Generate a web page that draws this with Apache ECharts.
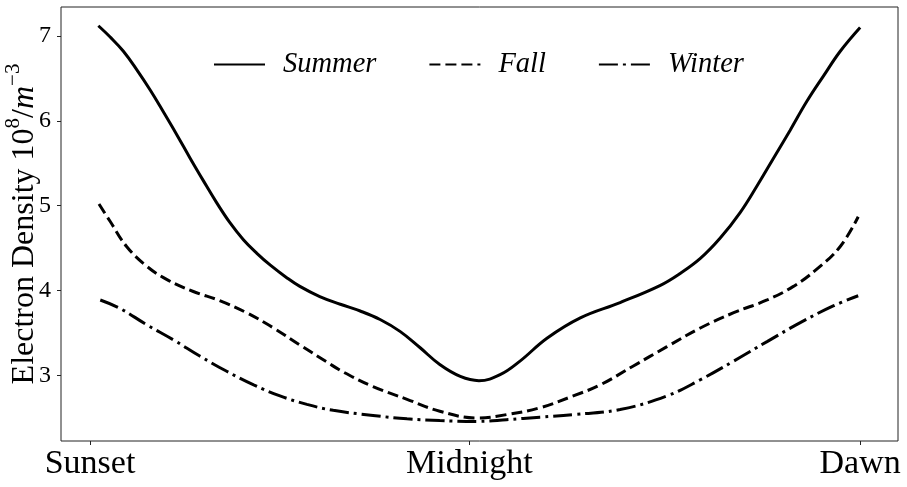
<!DOCTYPE html>
<html>
<head>
<meta charset="utf-8">
<script src="https://cdn.jsdelivr.net/npm/echarts@6/dist/echarts.min.js"></script>
<style>html,body{margin:0;padding:0;background:#fff}#c{width:907px;height:487px}</style>
</head>
<body>
<div id="c"></div>
<script>
// x in hours after sunset (Sunset = 0, Dawn = 12)
const xTickValues = [0, 5.91, 12];
const xTickLabels = ['Sunset', 'Midnight', 'Dawn'];
const yTickValues = [3, 4, 5, 6, 7];
const seriesNames = ['Summer', 'Fall', 'Winter'];
const yAxisTitle = '{a|Electron Density 10}{s|8}{a|/}{i|m}{s|−3}';

const summerX = [0.13,0.31,0.52,0.73,0.94,1.14,1.35,1.56,1.77,1.97,2.18,2.39,2.60,2.81,3.07,3.27,3.58,3.90,4.21,4.52,4.83,5.14,5.45,5.77,6.06,6.39,6.70,7.12,7.64,8.26,8.88,9.19,9.51,9.82,10.13,10.39,10.65,10.91,11.17,11.43,11.69,12.00];
const summerY = [7.12,6.99,6.82,6.60,6.36,6.11,5.84,5.56,5.29,5.04,4.80,4.60,4.44,4.30,4.15,4.05,3.93,3.84,3.76,3.66,3.52,3.33,3.13,2.99,2.94,3.01,3.17,3.44,3.68,3.86,4.06,4.20,4.38,4.62,4.92,5.23,5.56,5.89,6.23,6.53,6.82,7.10];

const fallX = [0.14,0.31,0.57,0.88,1.20,1.61,2.03,2.44,2.86,3.27,3.69,3.95,4.41,4.94,5.45,6.03,6.49,7.01,7.53,7.95,8.46,8.99,9.51,10.03,10.55,10.96,11.32,11.69,11.97];
const fallY = [5.02,4.82,4.52,4.29,4.13,3.99,3.88,3.74,3.56,3.36,3.16,3.04,2.87,2.72,2.58,2.50,2.54,2.62,2.76,2.89,3.11,3.34,3.56,3.74,3.89,4.05,4.25,4.52,4.87];

const winterX = [0.16,0.47,0.88,1.30,1.71,2.13,2.55,2.96,3.38,3.79,4.41,4.94,5.45,6.03,6.49,7.01,7.53,8.26,8.99,9.51,10.03,10.55,11.06,11.58,11.97];
const winterY = [3.89,3.79,3.60,3.42,3.23,3.05,2.89,2.76,2.66,2.59,2.53,2.49,2.47,2.46,2.48,2.51,2.54,2.60,2.76,2.95,3.17,3.40,3.62,3.82,3.94];

const zip = (xs, ys) => xs.map((x, i) => [x, ys[i]]);
const serif = '"Liberation Serif", "DejaVu Serif", serif';

const chart = echarts.init(document.getElementById('c'), null, {renderer: 'canvas'});
const lineBase = {type: 'line', showSymbol: false, symbol: 'none', smooth: 0.4, animation: false};
chart.setOption({
  animation: false,
  backgroundColor: '#fff',
  grid: {left: 61, top: 7, right: 9, bottom: 46, show: true, borderColor: '#222', borderWidth: 1, containLabel: false, outerBoundsMode: 'none'},
  legend: {
    left: 208, top: 45, itemWidth: 51, itemHeight: 20, itemGap: 52,
    itemStyle: {opacity: 0},
    textStyle: {fontFamily: serif, fontStyle: 'italic', fontSize: 28.5, color: '#000', padding: [0, 0, 0, 13]},
    data: seriesNames
  },
  graphic: [{
    type: 'text', x: 22, y: 224, rotation: Math.PI / 2, silent: true,
    style: {
      text: yAxisTitle, align: 'center', verticalAlign: 'middle',
      rich: {
        a: {fontFamily: serif, fontSize: 32, fill: '#000', lineHeight: 38, verticalAlign: 'bottom'},
        i: {fontFamily: serif, fontStyle: 'italic', fontSize: 32, fill: '#000', lineHeight: 38, verticalAlign: 'bottom'},
        s: {fontFamily: serif, fontSize: 21, fill: '#000', lineHeight: 38, verticalAlign: 'top'}
      }
    }
  }],
  xAxis: {
    type: 'value', min: -0.452, max: 12.59,
    splitLine: {show: false},
    axisLine: {show: false, onZero: false},
    axisTick: {show: true, length: 4, customValues: xTickValues, lineStyle: {color: '#222'}},
    axisLabel: {customValues: xTickValues, formatter: v => xTickLabels[xTickValues.indexOf(v)] || '',
      fontFamily: serif, fontSize: 34, color: '#000', margin: 6}
  },
  yAxis: {
    type: 'value', min: 2.229, max: 7.341,
    splitLine: {show: false},
    axisLine: {show: false, onZero: false},
    axisTick: {show: true, length: 4, customValues: yTickValues, lineStyle: {color: '#222'}},
    axisLabel: {customValues: yTickValues, fontFamily: serif, fontSize: 24, color: '#000', margin: 10}
  },
  series: [
    Object.assign({}, lineBase, {name: 'Summer', data: zip(summerX, summerY), lineStyle: {color: '#000', width: 3, type: 'solid'}, itemStyle: {color: '#000'}}),
    Object.assign({}, lineBase, {name: 'Fall', data: zip(fallX, fallY), lineStyle: {color: '#000', width: 3, type: [11, 5], cap: 'butt'}, itemStyle: {color: '#000'}}),
    Object.assign({}, lineBase, {name: 'Winter', data: zip(winterX, winterY), lineStyle: {color: '#000', width: 3, type: [19, 5, 3, 5], cap: 'butt'}, itemStyle: {color: '#000'}})
  ]
});
</script>
</body>
</html>
